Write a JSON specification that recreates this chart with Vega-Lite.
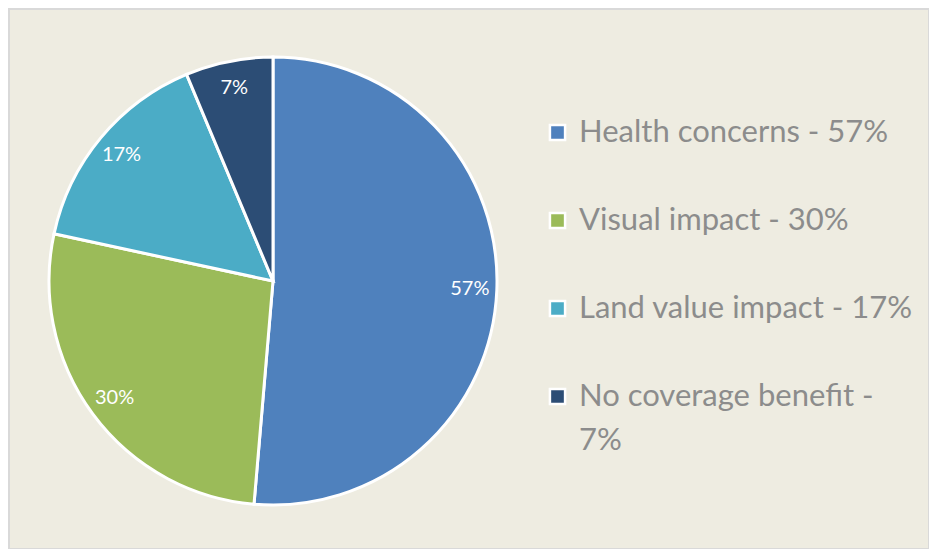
{
  "$schema": "https://vega.github.io/schema/vega-lite/v6.json",
  "width": 929,
  "height": 549,
  "autosize": {"type": "fit", "contains": "padding"},
  "padding": {"left": 9, "top": 9, "right": 0, "bottom": 0},
  "background": "white",
  "config": {
    "view": {"fill": "#EEECE1", "stroke": "#D9D9D9", "strokeWidth": 2},
    "font": "Lato",
    "style": {"guide-label": {"lineHeight": 44}}
  },
  "data": {
    "values": [
      {"category": "Health concerns - 57%", "value": 57, "label": "57%", "order": 1},
      {"category": "Visual impact - 30%", "value": 30, "label": "30%", "order": 2},
      {"category": "Land value impact - 17%", "value": 17, "label": "17%", "order": 3},
      {"category": "No coverage benefit - 7%", "value": 7, "label": "7%", "order": 4}
    ]
  },
  "encoding": {
    "theta": {"field": "value", "type": "quantitative", "stack": true},
    "order": {"field": "order", "type": "quantitative"},
    "x": {"datum": 0, "type": "quantitative", "scale": {"domain": [-1, 2.4848]}, "axis": null},
    "y": {"datum": 0, "type": "quantitative", "scale": {"domain": [-1, 1.015]}, "axis": null}
  },
  "layer": [
    {
      "mark": {"type": "arc", "outerRadius": 224, "stroke": "white", "strokeWidth": 3},
      "encoding": {
        "color": {
          "field": "category",
          "type": "nominal",
          "sort": ["Health concerns - 57%", "Visual impact - 30%", "Land value impact - 17%", "No coverage benefit - 7%"],
          "scale": {
            "domain": ["Health concerns - 57%", "Visual impact - 30%", "Land value impact - 17%", "No coverage benefit - 7%"],
            "range": ["#4F81BD", "#9BBB59", "#4BACC6", "#2C4D75"]
          },
          "legend": {
            "title": null,
            "orient": "none",
            "legendX": 533,
            "legendY": 108,
            "padding": 0,
            "symbolType": "square",
            "symbolSize": 230,
            "symbolStrokeColor": "white",
            "symbolStrokeWidth": 2.5,
            "symbolOpacity": 1,
            "labelFont": "Lato",
            "labelFontSize": 31,
            "labelColor": "#8C8C8C",
            "labelOffset": 6,
            "labelLimit": 400,
            "rowPadding": 56,
            "labelExpr": "datum.label == 'No coverage benefit - 7%' ? ['No coverage benefit -', '7%'] : datum.label"
          }
        }
      }
    },
    {
      "mark": {"type": "text", "radius": 197, "fill": "white", "fontSize": 20, "font": "Lato"},
      "encoding": {
        "text": {"field": "label", "type": "nominal"}
      }
    }
  ]
}
